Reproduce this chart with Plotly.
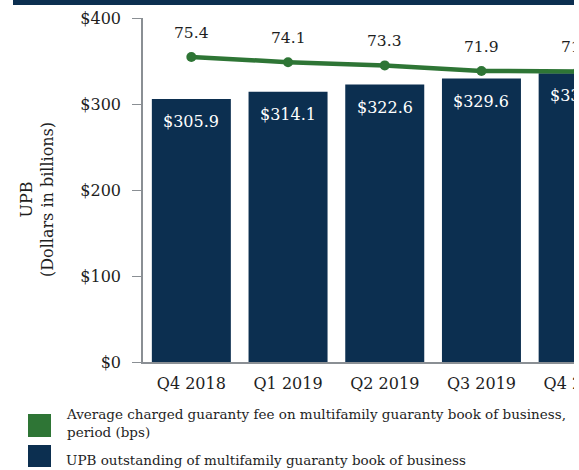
import plotly.graph_objects as go

# Quarterly multifamily guaranty book data
quarters = ["Q4 2018", "Q1 2019", "Q2 2019", "Q3 2019", "Q4 2019"]
upb_billions = [305.9, 314.1, 322.6, 329.6, 335.8]
guaranty_fee_bps = [75.4, 74.1, 73.3, 71.9, 71.8]
y_ticks = [0, 100, 200, 300, 400]
y_tick_labels = ["$0", "$100", "$200", "$300", "$400"]

NAVY = "#0c2f50"
GREEN = "#2e7535"
SERIF = "DejaVu Serif"
TEXT = "#1e1e1e"

W, H = 579, 470
ML, MR, MT, MB = 143, 0, 18, 108
PW, PH = W - ML - MR, H - MT - MB
CAT_PX = 96.7   # horizontal pixels per quarter
VISIBLE_R = 574  # content is cut off at this x


def px(x):
    return (x - ML) / PW


def py(y):
    return (H - MB - y) / PH


fig = go.Figure()

fig.add_trace(go.Bar(
    x=quarters, y=upb_billions, marker=dict(color=NAVY, line=dict(width=0)),
    name="UPB outstanding of multifamily guaranty book of business",
    hoverinfo="x+y", showlegend=False,
))

fig.add_trace(go.Scatter(
    x=quarters, y=guaranty_fee_bps, yaxis="y2", mode="lines+markers",
    line=dict(color=GREEN, width=4.5), marker=dict(color=GREEN, size=10),
    name="Average charged guaranty fee", showlegend=False,
))

annotations = []
for q, v in zip(quarters, upb_billions):
    annotations.append(dict(
        x=q, y=v, xref="x", yref="y", text=f"${v:.1f}", showarrow=False,
        yanchor="top", yshift=-11, font=dict(family=SERIF, size=16, color="white"),
    ))
for q, v in zip(quarters, guaranty_fee_bps):
    annotations.append(dict(
        x=q, y=v, xref="x", yref="y2", text=f"{v:.1f}", showarrow=False,
        yanchor="bottom", yshift=13, font=dict(family=SERIF, size=15.5, color=TEXT),
    ))

# Axis title
annotations.append(dict(
    x=px(37), y=py(200), xref="paper", yref="paper", textangle=-90,
    xanchor="center", yanchor="middle",
    text="UPB<br>(Dollars in billions)", showarrow=False,
    font=dict(family=SERIF, size=16, color=TEXT),
))

# Legend entries
annotations.append(dict(
    x=px(64), y=py(404), xref="paper", yref="paper", xanchor="left", yanchor="top",
    align="left", showarrow=False,
    text="Average charged guaranty fee on multifamily guaranty book of business,<br>period (bps)",
    font=dict(family=SERIF, size=13.5, color=TEXT),
))
annotations.append(dict(
    x=px(64), y=py(450), xref="paper", yref="paper", xanchor="left", yanchor="top",
    align="left", showarrow=False,
    text="UPB outstanding of multifamily guaranty book of business",
    font=dict(family=SERIF, size=13.5, color=TEXT),
))

# White strip at the right edge, drawn on top of everything
annotations.append(dict(
    x=px(VISIBLE_R), y=1.1, xref="paper", yref="paper", xanchor="left", yanchor="top",
    text=" ", showarrow=False, width=W - VISIBLE_R + 4, height=H + 40,
    bgcolor="white", borderpad=0, borderwidth=0,
))

shapes = [
    # header band
    dict(type="rect", xref="paper", yref="paper", x0=px(13), x1=px(VISIBLE_R),
         y0=py(5), y1=py(-2), fillcolor=NAVY, line=dict(width=0), layer="above"),
    # legend swatches
    dict(type="rect", xref="paper", yref="paper", x0=px(28), x1=px(51),
         y0=py(437), y1=py(414), fillcolor=GREEN, line=dict(width=0)),
    dict(type="rect", xref="paper", yref="paper", x0=px(28), x1=px(51),
         y0=py(467), y1=py(445), fillcolor=NAVY, line=dict(width=0)),
]

fig.update_layout(
    template="none",
    width=W, height=H,
    margin=dict(l=ML, r=MR, t=MT, b=MB, pad=0, autoexpand=False),
    paper_bgcolor="white", plot_bgcolor="white",
    bargap=0.183,
    showlegend=False,
    xaxis=dict(
        range=[-0.5, -0.5 + PW / CAT_PX], showgrid=False, showline=True,
        linecolor="#8a8f94", linewidth=1.5, ticks="",
        tickfont=dict(family=SERIF, size=16, color=TEXT),
        ticklabelstandoff=6, fixedrange=True, automargin=False, zeroline=False,
    ),
    yaxis=dict(
        range=[0, 400], tickvals=y_ticks, ticktext=y_tick_labels,
        showgrid=False, zeroline=False, showline=True, linecolor="#8a8f94",
        linewidth=1.5, ticks="outside", ticklen=9, tickcolor="#8a8f94",
        tickfont=dict(family=SERIF, size=16, color=TEXT), ticklabelstandoff=8,
        automargin=False,
    ),
    yaxis2=dict(
        range=[-0.85, 85.15], overlaying="y", side="right", visible=False,
        automargin=False,
    ),
    annotations=annotations,
    shapes=shapes,
)

fig.write_html("out.html")
